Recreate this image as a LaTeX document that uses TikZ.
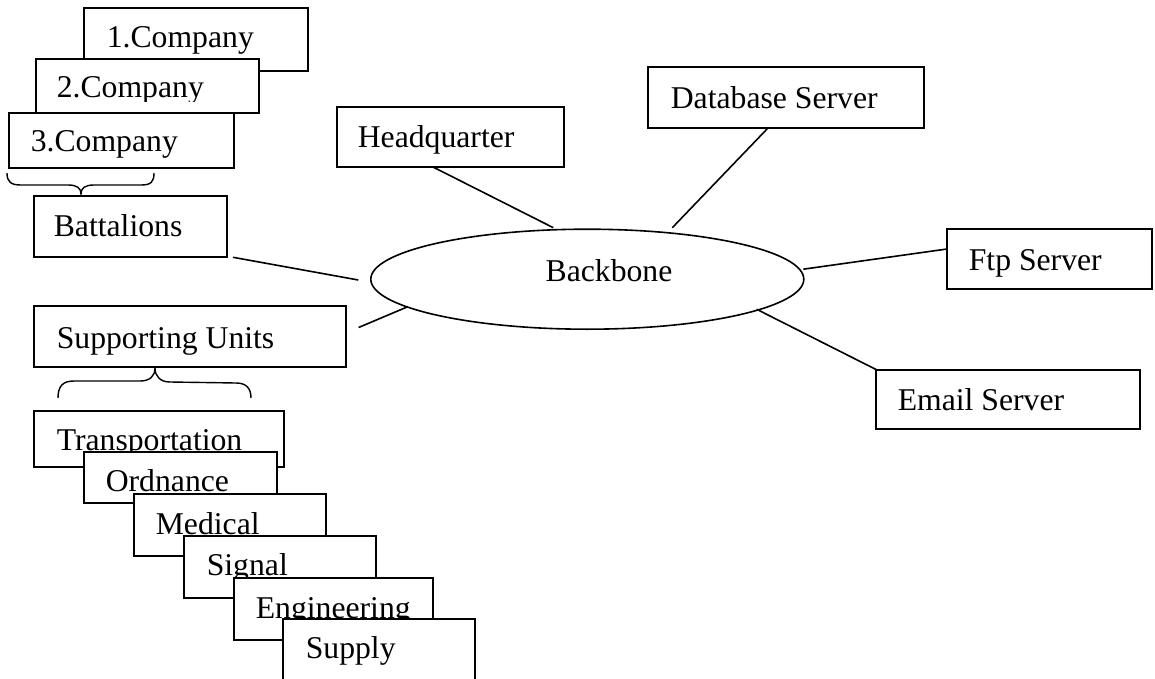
\documentclass[tikz,border=0pt]{standalone}
\usepackage{fontspec}
\setmainfont{Liberation Serif}
\usetikzlibrary{calc,shapes.geometric}
\begin{document}
\begin{tikzpicture}[x=1pt,y=-1pt,
  line width=1.6pt,
  box/.style={draw,fill=white,rectangle,inner sep=0pt,outer sep=0pt,anchor=north west},
  lbl/.style={inner sep=0pt,anchor=base west,font=\fontsize{31.7}{38}\selectfont},
  wire/.style={draw},
  brc/.style={draw,line width=1.4pt}]
\clip (0,0) rectangle (1155,679);
\fill[white] (0,0) rectangle (1155,679);

% companies
\node[box,minimum width=224pt,minimum height=63pt] (c1) at (84,8) {};
\node[lbl] (c1t) at ($(c1.north west)+(22,40)$) {1.Company};
\node[box,minimum width=223pt,minimum height=54pt] (c2) at (36,59) {};
\begin{scope}
  \clip (36,59) rectangle (259,102);
  \node[lbl] (c2t) at ($(c2.north west)+(20,39)$) {2.Company};
\end{scope}
\node[box,minimum width=225pt,minimum height=55pt] (c3) at (9,113) {};
\node[lbl] (c3t) at ($(c3.north west)+(21,39)$) {3.Company};

% brace under the companies
\draw[brc] (7,173) .. controls (7,182) and (11,185) .. (21,185) -- (68,185)
  .. controls (77,185) and (81,188) .. (81,194)
  .. controls (81,188) and (85,185) .. (94,185) -- (141,185)
  .. controls (151,185) and (154,182) .. (154,173);

\node[box,minimum width=193pt,minimum height=61pt] (bat) at (34,196) {};
\node[lbl] (batt) at ($(bat.north west)+(19,40)$) {Battalions};

% supporting units
\node[box,minimum width=312pt,minimum height=61pt] (sup) at (34,306) {};
\node[lbl] (supt) at ($(sup.north west)+(22,42)$) {Supporting Units};

\draw[brc] (58,398) .. controls (58,386) and (63,381) .. (74,381) -- (140,381)
  .. controls (150,381) and (155,376) .. (155,368)
  .. controls (155,376) and (160,382) .. (170,382) -- (236,383)
  .. controls (246,383) and (251,388) .. (251,398);

\node[box,minimum width=250pt,minimum height=56pt] (tra) at (34,411) {};
\node[lbl] (trat) at ($(tra.north west)+(22,39)$) {Transportation};
\node[box,minimum width=193pt,minimum height=51pt] (ord) at (84,452) {};
\node[lbl] (ordt) at ($(ord.north west)+(21,39.5)$) {Ordnance};
\node[box,minimum width=192pt,minimum height=62pt] (med) at (134,494) {};
\node[lbl] (medt) at ($(med.north west)+(21,40.5)$) {Medical};
\node[box,minimum width=192pt,minimum height=62pt] (sig) at (184,536) {};
\node[lbl] (sigt) at ($(sig.north west)+(22,39)$) {Signal};
\node[box,minimum width=199pt,minimum height=62pt] (eng) at (234,578) {};
\node[lbl] (engt) at ($(eng.north west)+(21,40)$) {Engineering};
\node[box,minimum width=192pt,minimum height=90pt] (spl) at (283,619) {};
\node[lbl] (splt) at ($(spl.north west)+(22,39)$) {Supply};

% backbone
\node[draw,ellipse,inner sep=0pt,outer sep=0pt,minimum width=433pt,minimum height=100pt] (bb) at (587.3,279.2) {};
\node[inner sep=0pt,anchor=base,font=\fontsize{31.7}{38}\selectfont] (bbt) at (609,281.7) {Backbone};

% servers and headquarter
\node[box,minimum width=227pt,minimum height=60pt] (hq) at (337,107) {};
\node[lbl] (hqt) at ($(hq.north west)+(20,41)$) {Headquarter};
\node[box,minimum width=276pt,minimum height=61pt] (db) at (648,67) {};
\node[lbl] (dbt) at ($(db.north west)+(22,41.5)$) {Database Server};
\node[box,minimum width=205pt,minimum height=60pt] (ftp) at (947,229) {};
\node[lbl] (ftpt) at ($(ftp.north west)+(21,41)$) {Ftp Server};
\node[box,minimum width=264pt,minimum height=59pt] (mail) at (876,370) {};
\node[lbl] (mailt) at ($(mail.north west)+(21,40)$) {Email Server};

% links to the backbone
\coordinate (hq-a) at ($(hq.south west)+(96,0)$);
\coordinate (bb-hq) at ($(bb.center)+(-34,-51.5)$);
\coordinate (db-a) at ($(db.south west)+(120,0)$);
\coordinate (bb-db) at ($(bb.center)+(85,-51.5)$);
\coordinate (bat-a) at ($(bat.south east)+(6,0.3)$);
\coordinate (bb-bat) at ($(bb.center)+(-229,0.8)$);
\coordinate (sup-a) at ($(sup.east)+(12.6,-9)$);
\coordinate (bb-sup) at ($(bb.center)+(-179.5,27.5)$);
\coordinate (bb-ftp) at ($(bb.center)+(216,-10)$);
\coordinate (ftp-a) at ($(ftp.west)+(0,-10)$);
\coordinate (bb-mail) at ($(bb.center)+(169.4,30.1)$);
\coordinate (mail-a) at ($(mail.north west)+(1,0)$);

\draw[wire] (hq-a) -- (bb-hq);
\draw[wire] (db-a) -- (bb-db);
\draw[wire] (bat-a) -- (bb-bat);
\draw[wire] (sup-a) -- (bb-sup);
\draw[wire] (bb-ftp) -- (ftp-a);
\draw[wire] (bb-mail) -- (mail-a);
\end{tikzpicture}
\end{document}
